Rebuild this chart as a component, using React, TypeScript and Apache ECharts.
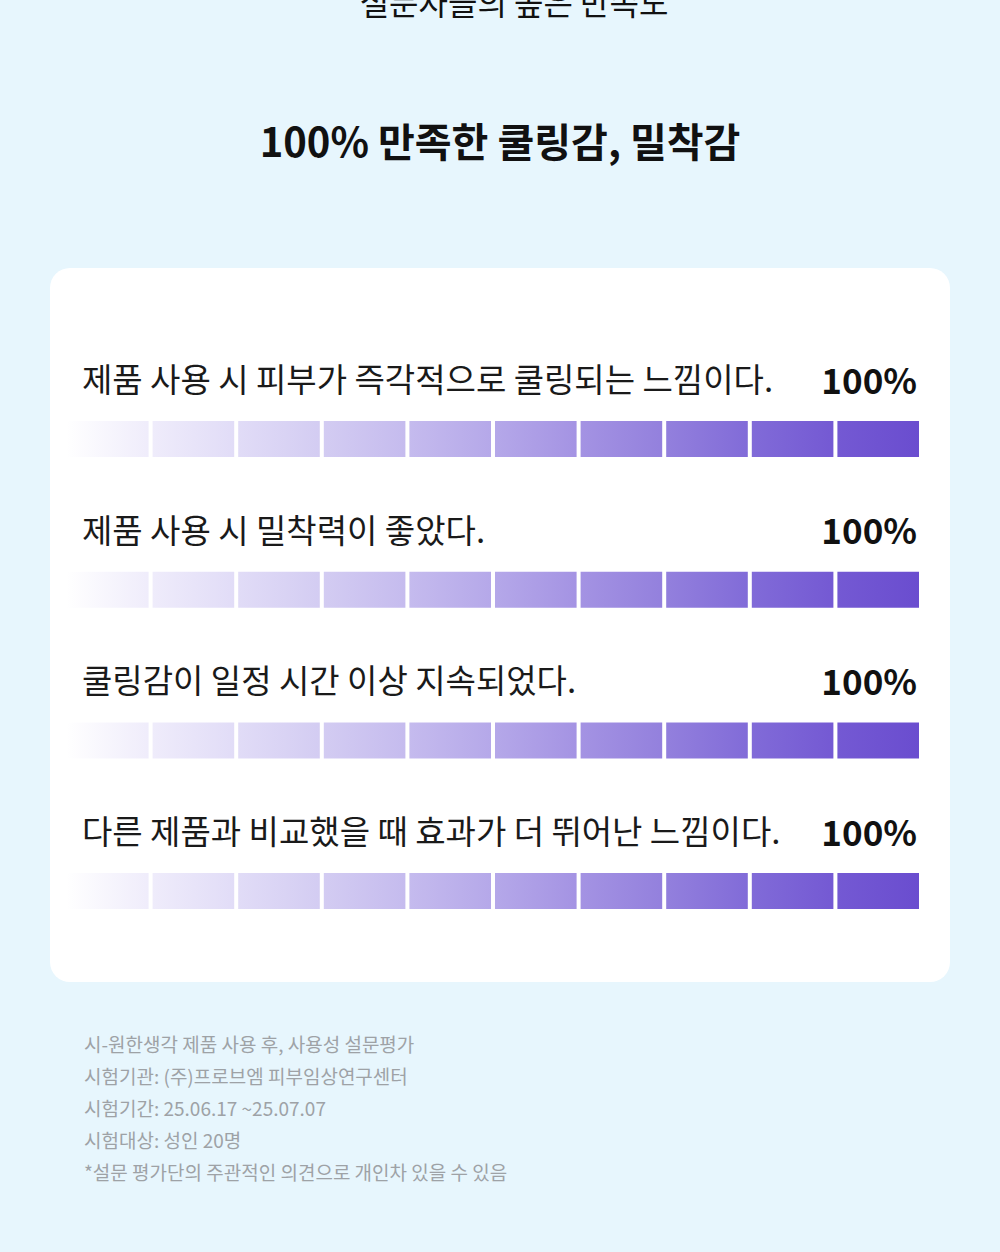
import React, { useEffect, useRef } from "react";
import * as echarts from "echarts";

const topTitle = "설문자들의 높은 만족도";
const heading = "100% 만족한 쿨링감, 밀착감";
const statements = [
  "제품 사용 시 피부가 즉각적으로 쿨링되는 느낌이다.",
  "제품 사용 시 밀착력이 좋았다.",
  "쿨링감이 일정 시간 이상 지속되었다.",
  "다른 제품과 비교했을 때 효과가 더 뛰어난 느낌이다.",
];
const satisfaction = [100, 100, 100, 100];
const segmentCount = 10;
const segmentStops = [
  "#ffffff", "#efecfb", "#e1dcf7", "#d3ccf2", "#c5bbee", "#b5a8e9",
  "#a493e3", "#9380dd", "#816bd8", "#7459d3", "#6a4dcf",
];
const footnotes = [
  "시-원한생각 제품 사용 후, 사용성 설문평가",
  "시험기관: (주)프로브엠 피부임상연구센터",
  "시험기간: 25.06.17 ~25.07.07",
  "시험대상: 성인 20명",
  "*설문 평가단의 주관적인 의견으로 개인차 있을 수 있음",
];

const FONT = "'Noto Sans CJK KR', 'Noto Sans', sans-serif";

export default function App() {
  const ref = useRef<HTMLDivElement>(null);
  useEffect(() => {
    document.body.style.margin = "0";
    const chart = echarts.init(ref.current!, null, { renderer: "svg" });
    const rowTop = 363.7;
    const rowH = 150.67;
    const series = Array.from({ length: segmentCount }, (_, i) => ({
      type: "bar",
      stack: "total",
      barWidth: 40,
      silent: true,
      itemStyle: {
        color: new echarts.graphic.LinearGradient(0, 0, 1, 0, [
          { offset: 0, color: segmentStops[i] },
          { offset: 1, color: segmentStops[i + 1] },
        ]),
        borderColor: "#ffffff",
        borderWidth: 2,
      },
      data: satisfaction.map((v) => v / segmentCount),
    }));
    const graphic: any[] = [
      { type: "rect", z: -10, shape: { x: 50, y: 268, width: 900, height: 714, r: 20 }, style: { fill: "#ffffff" } },
      { type: "text", x: 514, y: 1, style: { text: topTitle, font: `400 32px ${FONT}`, fill: "#111111", align: "center", verticalAlign: "middle" } },
      { type: "text", x: 500, y: 140, style: { text: heading, font: `700 40px ${FONT}`, fill: "#111111", align: "center", verticalAlign: "middle" } },
    ];
    statements.forEach((s, i) => {
      const cy = 378 + i * rowH;
      graphic.push({ type: "text", x: 82, y: cy, style: { text: s, font: `400 33px ${FONT}`, fill: "#1a1a1a", align: "left", verticalAlign: "middle" } });
      graphic.push({ type: "text", x: 917, y: cy, style: { text: `${satisfaction[i]}%`, font: `700 35px ${FONT}`, fill: "#111111", align: "right", verticalAlign: "middle" } });
    });
    footnotes.forEach((f, i) => {
      graphic.push({ type: "text", x: 84, y: 1043 + i * 32, style: { text: f, font: `400 19px ${FONT}`, fill: "#9ea2a6", align: "left", verticalAlign: "middle" } });
    });
    chart.setOption({
      animation: false,
      backgroundColor: "#e7f6fd",
      grid: { left: 65, right: 79, top: rowTop, height: rowH * 4 },
      xAxis: { type: "value", min: 0, max: 100, show: false },
      yAxis: { type: "category", inverse: true, data: statements, show: false },
      series,
      graphic,
    });
    return () => chart.dispose();
  }, []);
  return <div ref={ref} style={{ position: "absolute", left: 0, top: 0, width: 1000, height: 1252 }} />;
}
